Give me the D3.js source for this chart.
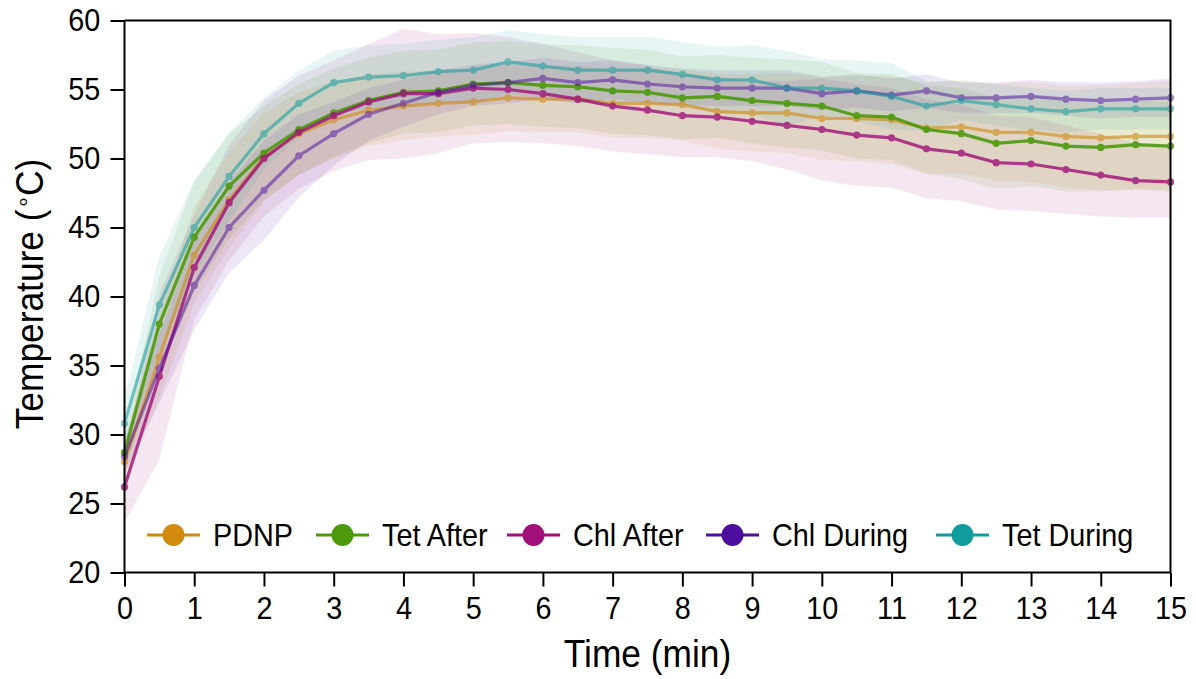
<!DOCTYPE html>
<html>
<head>
<meta charset="utf-8">
<script src="https://cdn.jsdelivr.net/npm/d3@7"></script>
<style>
  body { margin: 0; background: #fff; }
  svg { font-family: "Liberation Sans", Arial, sans-serif; }
</style>
</head>
<body>
<svg id="chart" width="1196" height="679"></svg>
<script>
// time points (min)
const times = [0, 0.5, 1, 1.5, 2, 2.5, 3, 3.5, 4, 4.5, 5, 5.5, 6, 6.5, 7, 7.5,
  8, 8.5, 9, 9.5, 10, 10.5, 11, 11.5, 12, 12.5, 13, 13.5, 14, 14.5, 15];

const seriesNames = ["PDNP", "Tet After", "Chl After", "Chl During", "Tet During"];

// mean temperatures
const pdnpMean = [28.0, 35.6, 43.0, 47.0, 50.1, 51.8, 52.8, 53.5, 53.8, 54.0, 54.1, 54.4, 54.3, 54.3, 54.0, 54.0,
  53.9, 53.4, 53.3, 53.3, 52.9, 52.9, 52.8, 52.2, 52.3, 51.9, 51.9, 51.6, 51.5, 51.6, 51.6];
const tetAfterMean = [28.7, 38.0, 44.3, 48.0, 50.4, 52.1, 53.3, 54.2, 54.8, 54.9, 55.4, 55.5, 55.3, 55.2, 54.9, 54.8,
  54.4, 54.5, 54.2, 54.0, 53.8, 53.1, 53.0, 52.1, 51.8, 51.1, 51.3, 50.9, 50.8, 51.0, 50.9];
const chlAfterMean = [26.2, 34.2, 42.1, 46.8, 50.0, 51.9, 53.1, 54.1, 54.7, 54.7, 55.1, 55.0, 54.7, 54.3, 53.8, 53.5,
  53.1, 53.0, 52.7, 52.4, 52.1, 51.7, 51.5, 50.7, 50.4, 49.7, 49.6, 49.2, 48.8, 48.4, 48.3];
const chlDuringMean = [28.4, 34.8, 40.8, 45.0, 47.7, 50.2, 51.8, 53.2, 54.0, 54.8, 55.3, 55.5, 55.8, 55.5, 55.7, 55.4,
  55.2, 55.1, 55.1, 55.1, 54.7, 54.9, 54.6, 54.9, 54.4, 54.4, 54.5, 54.3, 54.2, 54.3, 54.4];
const tetDuringMean = [30.8, 39.4, 45.0, 48.7, 51.8, 54.0, 55.5, 55.9, 56.0, 56.3, 56.4, 57.0, 56.7, 56.4, 56.4, 56.4,
  56.1, 55.7, 55.7, 55.1, 55.1, 54.9, 54.5, 53.8, 54.2, 53.9, 53.6, 53.4, 53.6, 53.6, 53.6];

// standard deviations (shaded bands)
const pdnpSd = [1.5, 3.0, 3.5, 3.5, 3.2, 3.0, 2.8, 2.6, 2.5, 2.4, 2.4, 2.4, 2.4, 2.4, 2.5, 2.5,
  2.6, 2.7, 2.8, 2.9, 3.0, 3.1, 3.2, 3.3, 3.4, 3.5, 3.6, 3.7, 3.8, 3.9, 4.0];
const tetAfterSd = [1.2, 3.5, 4.0, 3.8, 3.4, 3.3, 3.2, 3.1, 3.0, 3.0, 3.0, 3.0, 3.0, 3.0, 3.1, 3.1,
  3.0, 3.0, 3.1, 3.2, 3.2, 3.1, 3.1, 3.2, 3.3, 3.3, 3.3, 3.3, 3.2, 3.2, 3.2];
const chlAfterSd = [2.6, 6.0, 3.8, 4.2, 4.2, 4.1, 4.0, 4.2, 4.7, 4.3, 4.0, 3.8, 3.6, 3.4, 3.3, 3.2,
  3.0, 2.9, 2.9, 3.2, 3.7, 3.7, 3.6, 3.6, 3.5, 3.4, 3.4, 3.2, 3.0, 2.7, 2.6];
const chlDuringSd = [1.2, 2.5, 3.2, 3.3, 3.6, 3.0, 2.3, 1.9, 1.7, 1.6, 1.5, 1.5, 1.5, 1.5, 1.4, 1.4,
  1.3, 1.3, 1.3, 1.3, 1.2, 1.2, 1.2, 1.2, 1.1, 1.1, 1.2, 1.2, 1.3, 1.3, 1.4];
const tetDuringSd = [1.8, 3.5, 3.4, 3.2, 2.6, 2.4, 2.3, 2.3, 2.3, 2.3, 2.4, 2.3, 2.3, 2.4, 2.4, 2.4,
  2.35, 2.4, 2.5, 2.7, 2.1, 2.2, 2.4, 1.8, 1.4, 1.5, 1.5, 1.5, 1.5, 1.5, 1.5];

const xTicks = d3.range(0, 16);
const yTicks = [20, 25, 30, 35, 40, 45, 50, 55, 60];

const colors = ["#d08a0e", "#4c9a0c", "#a01078", "#4c0e9e", "#109c9c"];
const lineOpacity = [0.6, 0.9, 0.8, 0.5, 0.55];

const means = [pdnpMean, tetAfterMean, chlAfterMean, chlDuringMean, tetDuringMean];
const sds = [pdnpSd, tetAfterSd, chlAfterSd, chlDuringSd, tetDuringSd];

const series = seriesNames.map((name, i) => ({
  name,
  color: colors[i],
  opacity: lineOpacity[i],
  values: times.map((t, j) => ({ t, m: means[i][j], sd: sds[i][j] }))
}));

const plotLeft = 124.5, plotRight = 1170.5, plotTop = 20.5, plotBottom = 572.5;
const squeeze = "scale(0.93,1)"; // reference text is a bit narrow

const svg = d3.select("#chart");

const x = d3.scaleLinear().domain([0, 15]).range([plotLeft, plotRight]);
const y = d3.scaleLinear().domain([20, 60]).range([plotBottom, plotTop]);

// shaded bands
const area = d3.area()
  .x(d => x(d.t))
  .y0(d => y(d.m - d.sd))
  .y1(d => y(d.m + d.sd));

svg.append("g")
  .selectAll("path")
  .data(series)
  .join("path")
  .attr("d", d => area(d.values))
  .attr("fill", d => d.color)
  .attr("fill-opacity", 0.1);

// lines + markers
const line = d3.line().x(d => x(d.t)).y(d => y(d.m));

const sg = svg.append("g")
  .selectAll("g")
  .data(series)
  .join("g")
  .attr("opacity", d => d.opacity);

sg.append("path")
  .attr("d", d => line(d.values))
  .attr("fill", "none")
  .attr("stroke", d => d.color)
  .attr("stroke-width", 3.2);

sg.selectAll("circle")
  .data(d => d.values.map(v => ({ ...v, color: d.color })))
  .join("circle")
  .attr("cx", d => x(d.t))
  .attr("cy", d => y(d.m))
  .attr("r", 3.6)
  .attr("fill", d => d.color);

// axes
const xAxis = svg.append("g")
  .attr("transform", `translate(0,${plotBottom})`)
  .call(d3.axisBottom(x).tickValues(xTicks).tickSize(14).tickPadding(10).tickFormat(d3.format("d")));
const yAxis = svg.append("g")
  .attr("transform", `translate(${plotLeft},0)`)
  .call(d3.axisLeft(y).tickValues(yTicks).tickSize(14).tickPadding(12).tickFormat(d3.format("d")));

[xAxis, yAxis].forEach(a => {
  a.select(".domain").attr("stroke", "#000").attr("stroke-width", 2);
  a.selectAll(".tick line").attr("stroke", "#000").attr("stroke-width", 2);
  a.selectAll(".tick text").attr("fill", "#000").attr("transform", squeeze)
    .style("font-size", "31px")
    .style("font-family", "'Liberation Sans', Arial, sans-serif");
});
// plain domain lines, no outer ticks
xAxis.select(".domain").attr("d", `M${plotLeft},0H${plotRight}`);
yAxis.select(".domain").attr("d", `M0,${plotBottom}V${plotTop}`);

// top and right frame
svg.append("path")
  .attr("d", `M${plotLeft},${plotTop}H${plotRight}V${plotBottom}`)
  .attr("fill", "none")
  .attr("stroke", "#000")
  .attr("stroke-width", 2);

// axis titles
svg.append("text")
  .attr("transform", `translate(${(plotLeft + plotRight) / 2},667) ${squeeze}`)
  .attr("text-anchor", "middle")
  .style("font-size", "38px")
  .text("Time (min)");

const yt = svg.append("text")
  .attr("transform", `translate(43,294) rotate(-90) ${squeeze}`)
  .attr("text-anchor", "middle")
  .style("font-size", "38px");
yt.append("tspan").text("Temperature (");
yt.append("tspan").attr("dy", -12).style("font-size", "24px").text("∘");
yt.append("tspan").attr("dy", 12).text("C)");

// legend
const legendX = [147, 316, 507, 706, 936];
const lg = svg.append("g")
  .selectAll("g")
  .data(series)
  .join("g")
  .attr("transform", (d, i) => `translate(${legendX[i]},535)`);

lg.append("line")
  .attr("x1", 0).attr("x2", 53)
  .attr("stroke", d => d.color)
  .attr("stroke-width", 3);
lg.append("circle")
  .attr("cx", 26.5)
  .attr("r", 11)
  .attr("fill", d => d.color);
lg.append("text")
  .attr("transform", `translate(66,0) ${squeeze}`)
  .attr("dy", "0.36em")
  .style("font-size", "31px")
  .text(d => d.name);
</script>
</body>
</html>
